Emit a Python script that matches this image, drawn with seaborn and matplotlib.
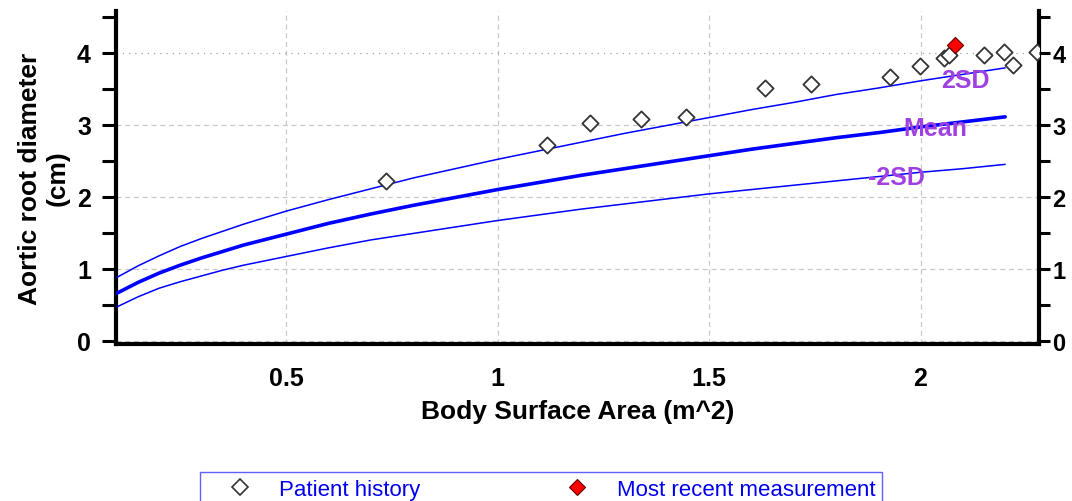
import numpy as np
import pandas as pd
import matplotlib
matplotlib.use("Agg")
import matplotlib.pyplot as plt
from matplotlib import font_manager
from matplotlib.ticker import FixedLocator, FuncFormatter
from matplotlib.lines import Line2D
import seaborn as sns

# ---------------- data ----------------
bsa_curve = [0.1, 0.15, 0.2, 0.25, 0.3, 0.35, 0.4, 0.5, 0.6, 0.7, 0.8, 0.9, 1.0, 1.1,
             1.2, 1.3, 1.4, 1.5, 1.6, 1.7, 1.8, 1.9, 2.0, 2.1, 2.2]
mean_curve = [0.66, 0.81, 0.94, 1.05, 1.15, 1.24, 1.33, 1.48, 1.63, 1.76, 1.88, 1.99, 2.10, 2.20,
              2.30, 2.39, 2.48, 2.57, 2.66, 2.74, 2.82, 2.89, 2.97, 3.04, 3.11]
plus2sd_curve = [0.88, 1.04, 1.18, 1.31, 1.42, 1.52, 1.62, 1.80, 1.96, 2.11, 2.26, 2.39, 2.52, 2.64,
                 2.76, 2.88, 2.99, 3.10, 3.21, 3.31, 3.42, 3.51, 3.61, 3.70, 3.79]
minus2sd_curve = [0.47, 0.61, 0.73, 0.82, 0.90, 0.98, 1.05, 1.17, 1.29, 1.40, 1.49, 1.58, 1.67, 1.75,
                  1.83, 1.90, 1.97, 2.04, 2.10, 2.16, 2.22, 2.28, 2.34, 2.39, 2.45]

history_bsa = [0.736, 1.117, 1.218, 1.339, 1.445, 1.632, 1.741, 1.928, 1.999,
               2.055, 2.068, 2.150, 2.197, 2.218, 2.276]
history_diam = [2.22, 2.72, 3.03, 3.08, 3.11, 3.51, 3.56, 3.67, 3.81,
                3.93, 3.97, 3.97, 4.01, 3.83, 4.01]
recent_bsa = [2.081]
recent_diam = [4.11]

curve_labels = ["2SD", "Mean", "-2SD"]
x_ticks = [0.5, 1, 1.5, 2]
y_ticks = [0, 1, 2, 3, 4]
legend_labels = ["Patient history", "Most recent measurement"]

# ---------------- style ----------------
sns.set_theme(style="white")
avail = {f.name for f in font_manager.fontManager.ttflist}
narrow = "Liberation Sans Narrow" if "Liberation Sans Narrow" in avail else "Liberation Sans"
plt.rcParams['font.family'] = ['Liberation Sans', 'DejaVu Sans']
plt.rcParams['text.color'] = 'black'
plt.rcParams['axes.labelcolor'] = 'black'
plt.rcParams['xtick.color'] = 'black'
plt.rcParams['ytick.color'] = 'black'

fig = plt.figure(figsize=(10.72, 5.02), dpi=100)
ax = fig.add_axes([116 / 1072, 1 - 345 / 502, (1039 - 116) / 1072, (345 - 12) / 502])

curves = pd.DataFrame({"bsa": bsa_curve, "mean": mean_curve,
                       "plus": plus2sd_curve, "minus": minus2sd_curve})
blue = "#0000FF"
sns.lineplot(data=curves, x="bsa", y="plus", ax=ax, color=blue, lw=1.1, zorder=3)
sns.lineplot(data=curves, x="bsa", y="minus", ax=ax, color=blue, lw=1.1, zorder=3)
sns.lineplot(data=curves, x="bsa", y="mean", ax=ax, color=blue, lw=2.6, zorder=3)

hist = pd.DataFrame({"bsa": history_bsa, "d": history_diam})
rec = pd.DataFrame({"bsa": recent_bsa, "d": recent_diam})
sns.scatterplot(data=hist, x="bsa", y="d", ax=ax, marker="D", s=68,
                facecolor="white", edgecolor="#333333", linewidth=1.3, zorder=4)
sns.scatterplot(data=rec, x="bsa", y="d", ax=ax, marker="D", s=68,
                facecolor="#FF0000", edgecolor="#660000", linewidth=0.8, zorder=5)

# curve labels
purple = "#A040E0"
label_pos = [(2.105, 3.62), (2.034, 2.96), (1.942, 2.27)]
for txt, (lx, ly) in zip(curve_labels, label_pos):
    ax.text(lx, ly, txt, color=purple, fontsize=18, fontweight="bold",
            ha="center", va="center", zorder=6)

xlim = (0.098, 2.28)
ylim = (-0.045, 4.58)
ax.set_xlim(*xlim)
ax.set_ylim(*ylim)

ax.xaxis.set_major_locator(FixedLocator(x_ticks))
ax.xaxis.set_minor_locator(FixedLocator([0.25, 0.75, 1.25, 1.75, 2.25]))
ax.yaxis.set_major_locator(FixedLocator(y_ticks))
ax.yaxis.set_minor_locator(FixedLocator([0.5, 1.5, 2.5, 3.5, 4.5]))
fmt = FuncFormatter(lambda v, p: f"{v:g}")
ax.xaxis.set_major_formatter(fmt)
ax.yaxis.set_major_formatter(fmt)

ax.tick_params(which="both", direction="out", length=10, width=2.2, color="black",
               labelsize=18, labelcolor="black")
ax.tick_params(axis="x", which="major", pad=6)
ax.tick_params(axis="y", which="major", pad=8)
for t in ax.xaxis.get_major_ticks() + ax.yaxis.get_major_ticks():
    t.label1.set_fontweight("bold")

for side in ["left", "bottom", "right"]:
    ax.spines[side].set_visible(True)
    ax.spines[side].set_linewidth(3)
    ax.spines[side].set_color("black")
ax.spines["top"].set_visible(False)

ax.grid(True, which="major", color="#C8C8C8", linestyle=(0, (4, 3)), linewidth=0.9)
ygl = ax.yaxis.get_gridlines()
ygl[4].set_linestyle((0, (1, 4)))
ygl[4].set_color("#A0A0A0")

# right-hand axis (same scale)
ax2 = ax.twinx()
ax2.set_ylim(*ylim)
ax2.yaxis.set_major_locator(FixedLocator(y_ticks))
ax2.yaxis.set_minor_locator(FixedLocator([0.5, 1.5, 2.5, 3.5, 4.5]))
ax2.yaxis.set_major_formatter(fmt)
ax2.tick_params(axis="y", which="both", direction="out", length=8, width=2.2,
                color="black", labelsize=17, labelcolor="black", pad=1.5)
for t in ax2.yaxis.get_major_ticks():
    t.label2.set_fontweight("bold")
for side in ["left", "bottom", "top", "right"]:
    ax2.spines[side].set_visible(False)
ax2.grid(False)

ax.set_xlabel("Body Surface Area (m^2)", fontsize=19, fontweight="bold", labelpad=6)
ax.set_ylabel("Aortic root diameter\n(cm)", fontsize=19, fontweight="bold")
ax.yaxis.set_label_coords(-0.05, 0.5)

handles = [Line2D([], [], marker="D", ls="none", markersize=8.2, markerfacecolor="white",
                  markeredgecolor="#333333", markeredgewidth=1.2),
           Line2D([], [], marker="D", ls="none", markersize=8.2, markerfacecolor="#FF0000",
                  markeredgecolor="#660000", markeredgewidth=0.8)]
leg = fig.legend(handles, legend_labels, ncol=2, loc="upper left",
                 bbox_to_anchor=(200 / 1072, 1 - 473 / 502), frameon=True,
                 fancybox=False, edgecolor="#6060FF", framealpha=1,
                 prop={"family": narrow, "size": 16}, labelcolor="#0000F0",
                 columnspacing=5.57, handletextpad=0.26, borderpad=0.3,
                 handlelength=3.0, borderaxespad=0)
leg.get_frame().set_linewidth(1.0)

fig.savefig("out.png", dpi=100)
